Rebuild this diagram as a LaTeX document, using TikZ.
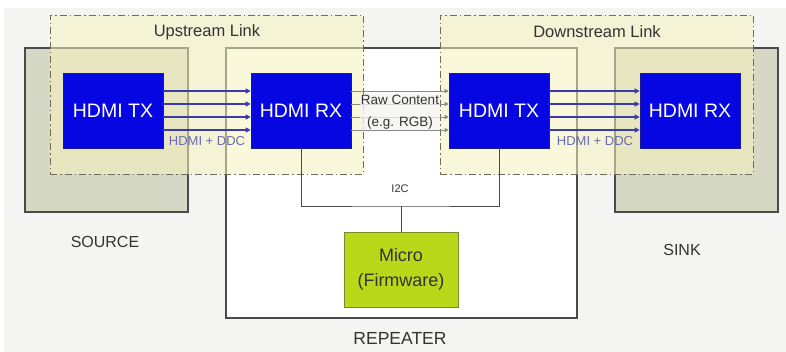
\documentclass[tikz,border=0pt]{standalone}
\usepackage{fontspec}
\setmainfont{Liberation Sans}
\usetikzlibrary{arrows.meta,calc}
\definecolor{bg}{HTML}{F4F4F2}
\definecolor{srcfill}{HTML}{D6D8C6}
\definecolor{linkfill}{HTML}{F7F3BE}
\definecolor{linkline}{HTML}{6E6E58}
\definecolor{boxline}{HTML}{4A4A4A}
\definecolor{hdmiblue}{HTML}{0606E2}
\definecolor{hdmiedge}{HTML}{1A1A90}
\definecolor{arrowblue}{HTML}{3A3AA8}
\definecolor{microfill}{HTML}{BAD81A}
\definecolor{microedge}{HTML}{7A8A30}
\definecolor{txtgray}{HTML}{333333}
\definecolor{ddcblue}{HTML}{6A6AB0}
\definecolor{rawgray}{HTML}{8A8A8A}
\tikzset{
  container/.style={draw=boxline, line width=1.1pt, inner sep=0pt},
  linkbox/.style={draw=linkline, line width=0.9pt, fill=linkfill, fill opacity=0.55,
    dash pattern=on 7pt off 3pt on 1.5pt off 3pt, inner sep=0pt},
  hdmibox/.style={fill=hdmiblue, draw=hdmiedge, line width=0.6pt, minimum width=100pt,
    minimum height=75pt, inner sep=0pt, text=white, font=\fontsize{19.5}{21}\selectfont},
  microbox/.style={fill=microfill, draw=microedge, line width=0.8pt, minimum width=114pt,
    minimum height=75pt, inner sep=0pt, text=txtgray, align=center,
    font=\fontsize{18}{25}\selectfont},
  biglabel/.style={text=txtgray, font=\fontsize{16}{18}\selectfont},
  linklabel/.style={text=txtgray, font=\fontsize{16.5}{18}\selectfont},
  blueline/.style={draw=arrowblue, line width=1.1pt, -{Triangle[length=5pt,width=5pt]}},
  rawline/.style={draw=rawgray, line width=0.7pt, -{Triangle[length=4pt,width=4pt]}},
}
\begin{document}
\begin{tikzpicture}[x=1pt,y=-1pt]
\useasboundingbox (0,0) rectangle (786,352);
\fill[white] (0,0) rectangle (786,352);
\fill[bg] (4,8) rectangle (786,352);
% containers
\node[container, fill=srcfill, minimum width=163pt, minimum height=164pt] (source) at (106.5,130) {};
\node[container, fill=srcfill, minimum width=163pt, minimum height=164pt] (sink) at (696.5,130) {};
\node[container, fill=white, minimum width=351pt, minimum height=270pt] (repeater) at (401.5,183) {};
% link areas
\node[linkbox, minimum width=313pt, minimum height=159pt] (uplink) at (206.5,94.5) {};
\node[linkbox, minimum width=313pt, minimum height=159pt] (downlink) at (596.5,94.5) {};
\node[linklabel] (uplabel) at (207,32) {Upstream Link};
\node[linklabel] (downlabel) at (597,32) {Downstream Link};
% HDMI blocks
\node[hdmibox] (tx1) at (113,110.5) {HDMI TX};
\node[hdmibox] (rx1) at (301,110.5) {HDMI RX};
\node[hdmibox] (tx2) at (499,110.5) {HDMI TX};
\node[hdmibox] (rx2) at (690,110.5) {HDMI RX};
% HDMI lanes
\foreach \d in {19.5,6.5,-6.5,-19.5}{
  \draw[blueline] ([yshift=\d pt]tx1.east) -- ([yshift=\d pt]rx1.west);
  \draw[blueline] ([yshift=\d pt]tx2.east) -- ([yshift=\d pt]rx2.west);
  \draw[rawline] ([yshift=\d pt]rx1.east) -- ([yshift=\d pt]tx2.west);
}
\node[text=ddcblue, font=\fontsize{13}{14}\selectfont] (ddc1) at (207,141) {HDMI + DDC};
\node[text=ddcblue, font=\fontsize{13}{14}\selectfont] (ddc2) at (595,141) {HDMI + DDC};
\node[text=txtgray, align=center, fill=bg, fill opacity=0.75, text opacity=1, inner sep=1pt,
  font=\fontsize{13.5}{22}\selectfont] (raw) at (400,112) {Raw Content\\(e.g. RGB)};
% I2C
\node[microbox] (micro) at (401,269.5) {Micro\\(Firmware)};
\coordinate (i2c) at (401,206);
\draw[boxline, line width=0.8pt] (rx1.south) |- (i2c) -| (tx2.south);
\draw[boxline, line width=0.8pt] (i2c) -- (micro.north);
\node[text=txtgray, font=\fontsize{11}{12}\selectfont] (i2clabel) at (400,189) {I2C};
% labels
\node[biglabel] (srclabel) at (105,242) {SOURCE};
\node[biglabel] (sinklabel) at (682,250) {SINK};
\node[biglabel, font=\fontsize{17.5}{19}\selectfont] (replabel) at (400,338) {REPEATER};
\end{tikzpicture}
\end{document}
